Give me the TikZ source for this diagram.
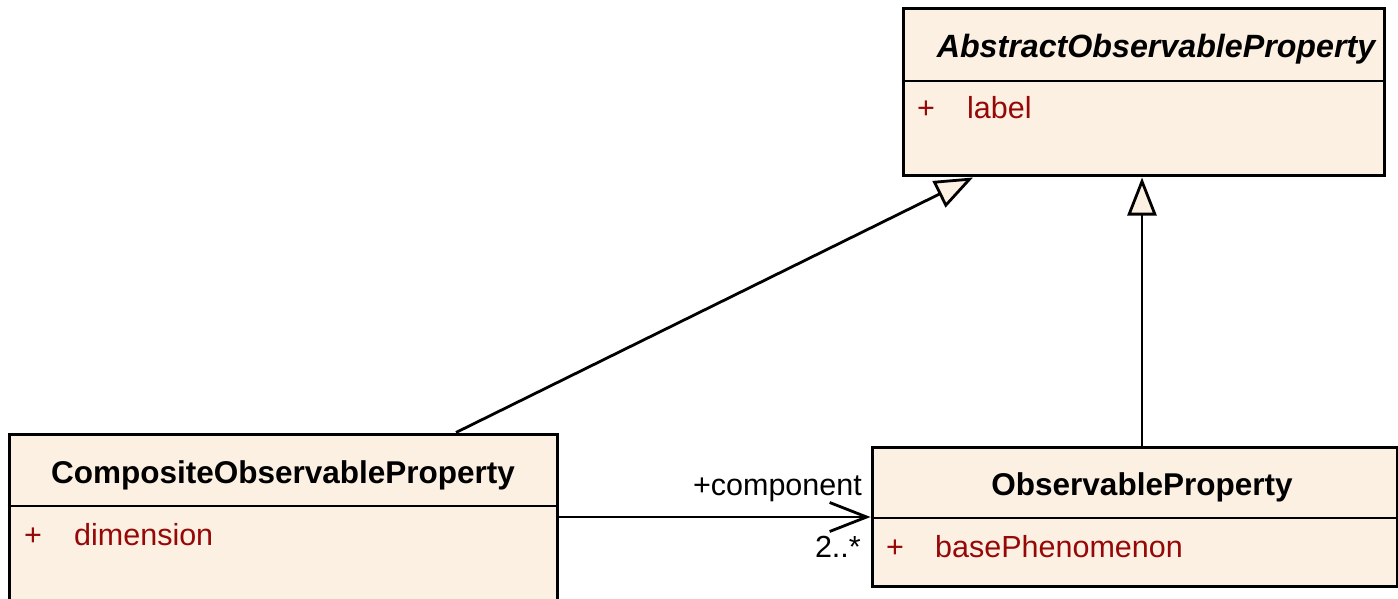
\documentclass[tikz,border=0pt]{standalone}
\usepackage{fontspec}
\setmainfont{Liberation Sans}
\usetikzlibrary{arrows.meta}
\definecolor{boxfill}{RGB}{251,240,226}
\definecolor{attrred}{RGB}{150,8,8}

\begin{document}
\begin{tikzpicture}[x=1pt,y=-1pt,
  classbox/.style={rectangle, draw=black, fill=boxfill, line width=3pt, inner sep=0pt},
  sepline/.style={line width=2.8pt},
  classtitle/.style={font=\fontsize{31.5}{36}\selectfont\bfseries, anchor=base, inner sep=0pt},
  attr/.style={font=\fontsize{30.5}{36}\selectfont, text=attrred, anchor=base west, inner sep=0pt},
  rolelabel/.style={font=\fontsize{30.5}{36}\selectfont, anchor=base east, inner sep=0pt},
  inherit/.style={line width=2.8pt, -{Triangle[length=38pt,width=29pt,fill=boxfill]}},
  assoc/.style={line width=2.8pt, -{Straight Barb[length=37pt,width=29pt]}},
]
\useasboundingbox (0,0) rectangle (1398,599);

% class boxes
\node[classbox, minimum width=481pt, minimum height=167pt] (abs) at (1143.5,92.5) {};
\node[classbox, minimum width=548pt, minimum height=206pt] (comp) at (283,537) {};
\node[classbox, minimum width=525pt, minimum height=139pt] (obs) at (1134.5,516.5) {};

% compartment separators
\draw[sepline] (abs.west |- 0,81) -- (abs.east |- 0,81);
\draw[sepline] (comp.west |- 0,506) -- (comp.east |- 0,506);
\draw[sepline] (obs.west |- 0,518) -- (obs.east |- 0,518);

% class names
\node[classtitle, font=\fontsize{32.2}{36}\selectfont\bfseries\itshape] (absname) at (1156,58) {AbstractObservableProperty};
\node[classtitle] (compname) at (283,483) {CompositeObservableProperty};
\node[classtitle] (obsname) at (1142,495) {ObservableProperty};

% attributes
\node[attr] (absvis) at (917,119) {+};
\node[attr] (absattr) at (967,119) {label};
\node[attr] (compvis) at (24,545) {+};
\node[attr] (compattr) at (74,545) {dimension};
\node[attr] (obsvis) at (886,557) {+};
\node[attr] (obsattr) at (935,557) {basePhenomenon};

% generalisations
\draw[inherit] (comp.north -| 456,0) -- (abs.south -| 973,0);
\draw[inherit] (obs.north -| 1142,0) -- (abs.south -| 1142,0);

% association
\draw[assoc] (comp.east |- 0,517) -- (obs.west |- 0,517);
\node[rolelabel] (role) at (862,495) {+component};
\node[rolelabel] (mult) at (861,557) {2..*};
\end{tikzpicture}
\end{document}
